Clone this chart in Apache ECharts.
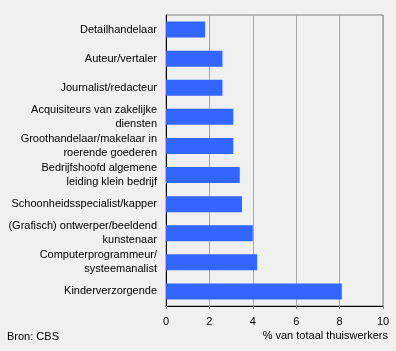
<!DOCTYPE html>
<html>
<head>
<meta charset="utf-8">
<script src="https://cdn.jsdelivr.net/npm/echarts@6/dist/echarts.min.js"></script>
<style>
    html, body { margin: 0; padding: 0; background: #f0f0f0; }
    #chart { width: 396px; height: 351px; }
</style>
</head>
<body>
<div id="chart"></div>
<script>
// beroepen, van boven naar onder
var categories = [
    'Detailhandelaar',
    'Auteur/vertaler',
    'Journalist/redacteur',
    'Acquisiteurs van zakelijke\ndiensten',
    'Groothandelaar/makelaar in\nroerende goederen',
    'Bedrijfshoofd algemene\nleiding klein bedrijf',
    'Schoonheidsspecialist/kapper',
    '(Grafisch) ontwerper/beeldend\nkunstenaar',
    'Computerprogrammeur/\nsysteemanalist',
    'Kinderverzorgende'
]
var values = [1.8, 2.6, 2.6, 3.1, 3.1, 3.4, 3.5, 4.0, 4.2, 8.1]
var xTicks = [0, 2, 4, 6, 8, 10]

var font = 'Liberation Sans, Arial, sans-serif'
var chart = echarts.init(document.getElementById('chart'))

var option = {
    backgroundColor: '#f0f0f0',
    animation: false,
    grid: {
        left: 166,
        right: 13,
        top: 15,
        bottom: 45,
        show: true,
        borderColor: '#808080',
        borderWidth: 1,
        backgroundColor: 'transparent'
    },
    xAxis: {
        type: 'value',
        min: xTicks[0],
        max: xTicks[xTicks.length - 1],
        interval: xTicks[1] - xTicks[0],
        axisLine: { show: true, lineStyle: { color: '#000', width: 1 } },
        axisTick: { show: true, length: 3, lineStyle: { color: '#808080' } },
        axisLabel: { color: '#000', fontSize: 11, fontFamily: font, margin: 10 },
        splitLine: { show: true, lineStyle: { color: '#a8a8a8', width: 1 } }
    },
    yAxis: {
        type: 'category',
        inverse: true,
        data: categories,
        axisLine: { show: true, lineStyle: { color: '#000', width: 1 } },
        axisTick: { show: false },
        axisLabel: {
            color: '#000',
            fontSize: 11,
            fontFamily: font,
            lineHeight: 14,
            margin: 9
        }
    },
    series: [
        {
            type: 'bar',
            data: values,
            barWidth: 16,
            itemStyle: { color: '#3366ff' }
        }
    ],
    graphic: [
        {
            type: 'text',
            right: 8,
            top: 330,
            style: { text: '% van totaal thuiswerkers', fill: '#000', fontSize: 11, fontFamily: font }
        },
        {
            type: 'text',
            left: 7,
            top: 331,
            style: { text: 'Bron: CBS', fill: '#000', fontSize: 11, fontFamily: font }
        }
    ]
}
chart.setOption(option)
</script>
</body>
</html>
